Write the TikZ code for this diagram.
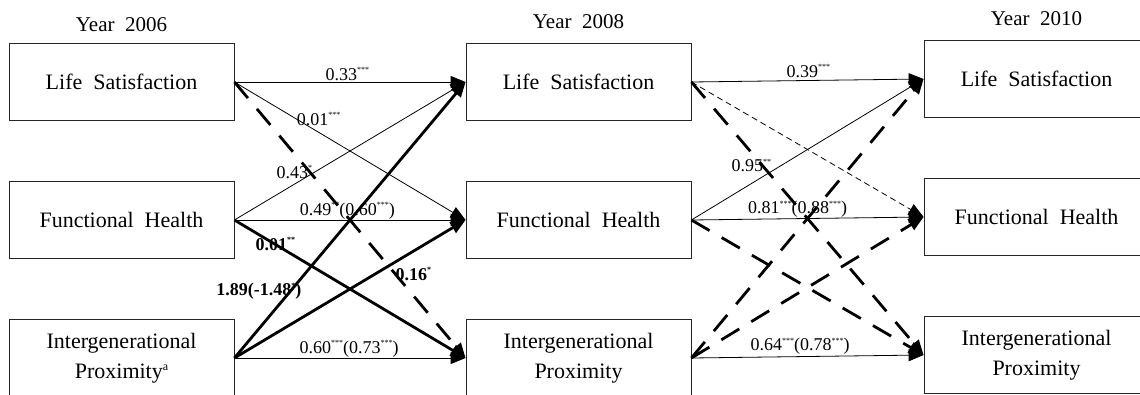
\documentclass[tikz,border=0pt]{standalone}
\usepackage{fontspec}
\setmainfont{Liberation Serif}[WordSpace=2]
\usetikzlibrary{arrows.meta,positioning}
\newcommand\sig[1]{\raisebox{7.5pt}{\fontsize{8}{8}\selectfont #1}}

\begin{document}
\begin{tikzpicture}[x=1pt, y=-1pt, >={Triangle[length=15pt,width=12pt]}, node distance=138pt,
  box/.style={draw=black!85, line width=0.8pt, minimum width=225pt, minimum height=77pt, inner sep=0pt, align=center, font=\fontsize{22}{30}\selectfont},
  yr/.style={font=\fontsize{21}{24}\selectfont},
  lab/.style={anchor=base, inner sep=0pt, font=\fontsize{18}{20}\selectfont},
  blab/.style={lab, font=\fontsize{18}{20}\selectfont\bfseries},
  path1/.style={->, line width=0.8pt},
  path2/.style={->, line width=2.8pt},
  path3/.style={->, line width=2.8pt, dash pattern=on 21pt off 14pt},
  path4/.style={->, line width=0.8pt, dash pattern=on 6pt off 4pt}]
\useasboundingbox (0,0) rectangle (1140,394);
\clip (0,0) rectangle (1140,394);
\node[box] (ls06) at (121.5,82) {Life Satisfaction};
\node[box] (fh06) [below of=ls06] {Functional Health};
\node[box] (ip06) [below of=fh06] {Intergenerational\\Proximity\raisebox{8pt}{\fontsize{12}{12}\selectfont a}};
\node[box] (ls08) [node distance=457pt, right of=ls06] {Life Satisfaction};
\node[box] (fh08) [below of=ls08] {Functional Health};
\node[box] (ip08) [below of=fh08] {Intergenerational\\Proximity};
\node[box] (ls10) [node distance=458pt, right of=ls08, yshift=3pt] {Life Satisfaction};
\node[box] (fh10) [below of=ls10] {Functional Health};
\node[box] (ip10) [below of=fh10] {Intergenerational\\Proximity};
\node[yr] (y06) [node distance=57pt, above of=ls06] {Year 2006};
\node[yr] (y08) [node distance=60pt, above of=ls08] {Year 2008};
\node[yr] (y10) [node distance=60pt, above of=ls10] {Year 2010};
\draw[path1] (ls06.east) -- node[lab, pos=0.489, yshift=2pt] (w1) {0.33\sig{***}} (ls08.west);
\draw[path1] (ls06.east) -- node[lab, pos=0.364, yshift=7pt] (w2) {0.01\sig{***}} (fh08.west);
\draw[path3] (ls06.east) -- (ip08.west);
\draw[path1] (fh06.east) -- node[lab, pos=0.259, yshift=6pt] (w3) {0.43\sig{*}} (ls08.west);
\draw[path1] (fh06.east) -- node[lab, pos=0.489, yshift=5pt] (w4) {0.49\sig{**}(0.60\sig{***})} (fh08.west);
\draw[path2] (fh06.east) -- node[blab, pos=0.177, yshift=-6pt] (w5) {0.01\sig{**}} (ip08.west);
\draw[path2] (ip06.east) -- node[blab, pos=0.106, yshift=33pt] (w6) {1.89(-1.48\sig{*})} (ls08.west);
\draw[path2] (ip06.east) -- node[blab, pos=0.774, yshift=-29pt] (w7) {0.16\sig{*}} (fh08.west);
\draw[path1] (ip06.east) -- node[lab, pos=0.496, yshift=5pt] (w8) {0.60\sig{***}(0.73\sig{***})} (ip08.west);
\draw[path1] (ls08.east) -- node[lab, pos=0.504, yshift=3pt] (w9) {0.39\sig{***}} (ls10.west);
\draw[path4] (ls08.east) -- (fh10.west);
\draw[path3] (ls08.east) -- (ip10.west);
\draw[path1] (fh08.east) -- node[lab, pos=0.258, yshift=12pt] (w10) {0.95\sig{**}} (ls10.west);
\draw[path1] (fh08.east) -- node[lab, pos=0.457, yshift=5pt] (w11) {0.81\sig{***}(0.88\sig{***})} (fh10.west);
\draw[path3] (fh08.east) -- (ip10.west);
\draw[path3] (ip08.east) -- (ls10.west);
\draw[path3] (ip08.east) -- (fh10.west);
\draw[path1] (ip08.east) -- node[lab, pos=0.468, yshift=6pt] (w12) {0.64\sig{***}(0.78\sig{***})} (ip10.west);
\end{tikzpicture}
\end{document}
